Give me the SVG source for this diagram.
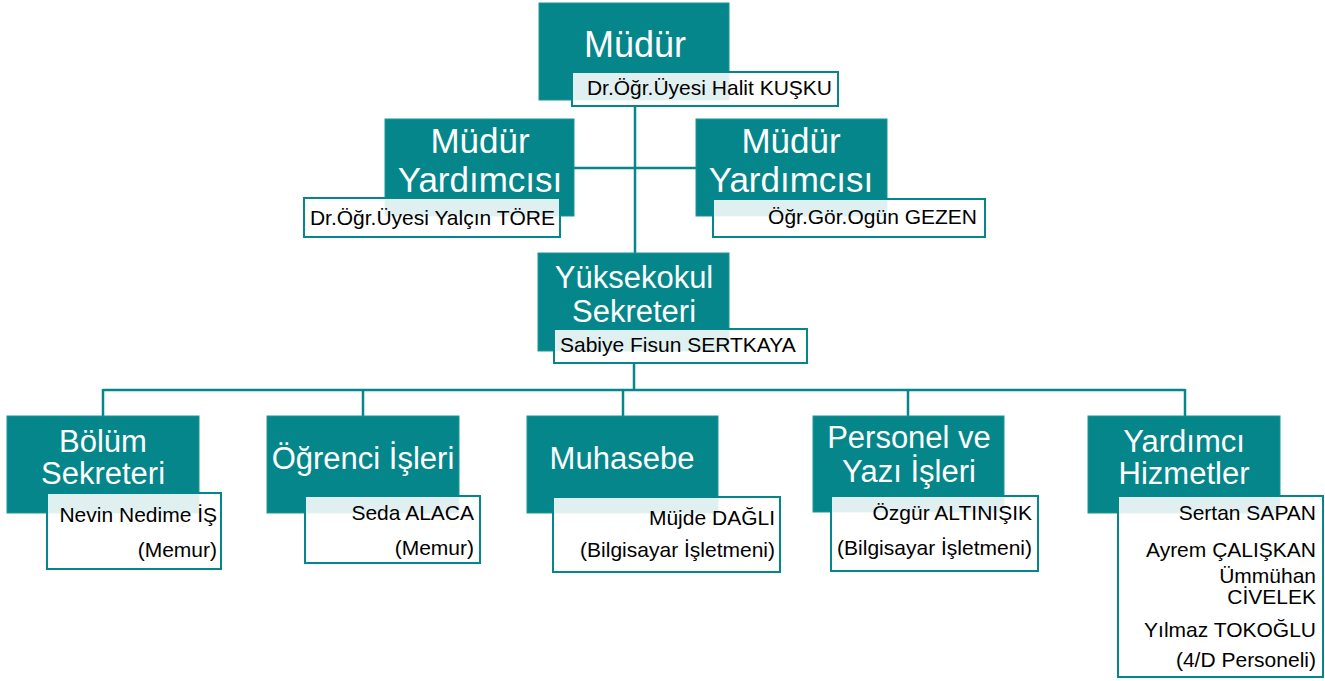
<svg xmlns="http://www.w3.org/2000/svg" width="1325" height="681" viewBox="0 0 1325 681">
<style>
.t{fill:#04868a;stroke:#1b9599;stroke-width:1}
.w{fill:#ffffff;fill-opacity:0.88;stroke:#04868a;stroke-width:2}
.h{font-family:"Liberation Sans",Arial,sans-serif;fill:#ffffff}
.n{font-family:"Liberation Sans",Arial,sans-serif;fill:#000000;font-size:21px}
.c{fill:none;stroke:#04868a;stroke-width:2.5}
</style>
<rect width="1325" height="681" fill="#ffffff"/>
<g id="connectors">
<path class="c" d="M635 106V253"/>
<path class="c" d="M574 168H696"/>
<path class="c" d="M634 363V390"/>
<path class="c" d="M103 390H1185"/>
<path class="c" d="M103 389V416M363 390V416M623 390V416M908 390V416M1185 389V416"/>
</g>
<g id="mudur">
<rect class="t" x="539" y="3" width="190" height="97"/>
<text class="h" x="635" y="57" font-size="36" text-anchor="middle">Müdür</text>
<rect class="w" x="572" y="72" width="266" height="34"/>
<text class="n" x="832" y="95" text-anchor="end" font-size="20.8">Dr.Öğr.Üyesi Halit KUŞKU</text>
</g>
<g id="mudur-yrd-1">
<rect class="t" x="385" y="119" width="189" height="97"/>
<text class="h" x="480" y="153" font-size="35" text-anchor="middle">Müdür</text>
<text class="h" x="480" y="192" font-size="35" text-anchor="middle">Yardımcısı</text>
<rect class="w" x="304" y="198" width="256" height="39"/>
<text class="n" x="555" y="225" text-anchor="end" font-size="20.6">Dr.Öğr.Üyesi Yalçın TÖRE</text>
</g>
<g id="mudur-yrd-2">
<rect class="t" x="696" y="119" width="191" height="97"/>
<text class="h" x="791" y="153" font-size="35" text-anchor="middle">Müdür</text>
<text class="h" x="791" y="192" font-size="35" text-anchor="middle">Yardımcısı</text>
<rect class="w" x="713" y="199" width="272" height="38"/>
<text class="n" x="977" y="224" text-anchor="end" font-size="20.6">Öğr.Gör.Ogün GEZEN</text>
</g>
<g id="yuksekokul-sekreteri">
<rect class="t" x="538" y="253" width="191" height="98"/>
<text class="h" x="634" y="288" font-size="31" text-anchor="middle">Yüksekokul</text>
<text class="h" x="634" y="322" font-size="31" text-anchor="middle">Sekreteri</text>
<rect class="w" x="554" y="329" width="253" height="34"/>
<text class="n" x="560" y="352" font-size="20.6">Sabiye Fisun SERTKAYA</text>
</g>
<g id="bolum-sekreteri">
<rect class="t" x="7" y="416" width="192" height="97"/>
<text class="h" x="103" y="452" font-size="31" text-anchor="middle">Bölüm</text>
<text class="h" x="103" y="484" font-size="31" text-anchor="middle">Sekreteri</text>
<rect class="w" x="47" y="493" width="174" height="76"/>
<text class="n" x="217" y="522" text-anchor="end">Nevin Nedime İŞ</text>
<text class="n" x="217" y="557" text-anchor="end">(Memur)</text>
</g>
<g id="ogrenci-isleri">
<rect class="t" x="267" y="416" width="192" height="97"/>
<text class="h" x="363" y="469" font-size="31" text-anchor="middle">Öğrenci İşleri</text>
<rect class="w" x="305" y="496" width="175" height="67"/>
<text class="n" x="474" y="520" text-anchor="end">Seda ALACA</text>
<text class="n" x="474" y="555" text-anchor="end">(Memur)</text>
</g>
<g id="muhasebe">
<rect class="t" x="527" y="416" width="191" height="97"/>
<text class="h" x="622" y="469" font-size="31" text-anchor="middle">Muhasebe</text>
<rect class="w" x="553" y="497" width="227" height="75"/>
<text class="n" x="775" y="525" text-anchor="end">Müjde DAĞLI</text>
<text class="n" x="775" y="557" text-anchor="end">(Bilgisayar İşletmeni)</text>
</g>
<g id="personel-yazi-isleri">
<rect class="t" x="813" y="416" width="191" height="96"/>
<text class="h" x="909" y="448" font-size="31" text-anchor="middle">Personel ve</text>
<text class="h" x="909" y="482" font-size="31" text-anchor="middle">Yazı İşleri</text>
<rect class="w" x="831" y="496" width="207" height="75"/>
<text class="n" x="1032" y="520" text-anchor="end">Özgür ALTINIŞIK</text>
<text class="n" x="1032" y="555" text-anchor="end">(Bilgisayar İşletmeni)</text>
</g>
<g id="yardimci-hizmetler">
<rect class="t" x="1088" y="416" width="192" height="97"/>
<text class="h" x="1184" y="452" font-size="31" text-anchor="middle">Yardımcı</text>
<text class="h" x="1184" y="484" font-size="31" text-anchor="middle">Hizmetler</text>
<rect class="w" x="1118" y="496" width="205" height="181"/>
<text class="n" x="1316" y="520" text-anchor="end">Sertan SAPAN</text>
<text class="n" x="1316" y="557" text-anchor="end">Ayrem ÇALIŞKAN</text>
<text class="n" x="1316" y="583" text-anchor="end">Ümmühan</text>
<text class="n" x="1316" y="604" text-anchor="end">CİVELEK</text>
<text class="n" x="1316" y="637" text-anchor="end">Yılmaz TOKOĞLU</text>
<text class="n" x="1316" y="667" text-anchor="end">(4/D Personeli)</text>
</g>
</svg>
